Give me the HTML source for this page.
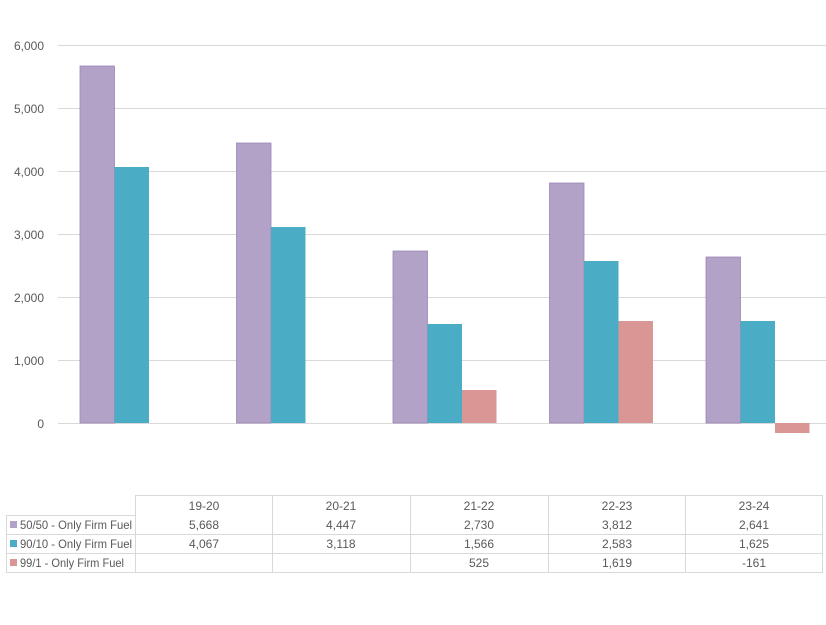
<!DOCTYPE html>
<html><head><style>body{margin:0;background:#fff}svg text{font-family:"Liberation Sans",sans-serif;font-size:12px;fill:#595959}</style></head><body>
<svg width="826" height="620" xmlns="http://www.w3.org/2000/svg">
<g stroke="#d9d9d9" stroke-width="1">
<line x1="58" x2="826" y1="45.5" y2="45.5"/><line x1="58" x2="826" y1="108.5" y2="108.5"/><line x1="58" x2="826" y1="171.5" y2="171.5"/><line x1="58" x2="826" y1="234.5" y2="234.5"/><line x1="58" x2="826" y1="297.5" y2="297.5"/><line x1="58" x2="826" y1="360.5" y2="360.5"/><line x1="58" x2="826" y1="423.5" y2="423.5"/>
</g>
<g text-anchor="end">
<text x="44" y="50">6,000</text><text x="44" y="113">5,000</text><text x="44" y="176">4,000</text><text x="44" y="239">3,000</text><text x="44" y="302">2,000</text><text x="44" y="365">1,000</text><text x="44" y="428">0</text>
</g>
<g stroke-width="0.8">
<rect x="80" y="66" width="34.5" height="357" fill="#b3a2c7" stroke="#9a87b5"/>
<rect x="114.5" y="167" width="34.5" height="256" fill="#4bacc6"/>
<rect x="236.5" y="143" width="34.5" height="280" fill="#b3a2c7" stroke="#9a87b5"/>
<rect x="271" y="227" width="34.5" height="196" fill="#4bacc6"/>
<rect x="393" y="251" width="34.5" height="172" fill="#b3a2c7" stroke="#9a87b5"/>
<rect x="427.5" y="324" width="34.5" height="99" fill="#4bacc6"/>
<rect x="462" y="390" width="34.5" height="33" fill="#d99694"/>
<rect x="549.5" y="183" width="34.5" height="240" fill="#b3a2c7" stroke="#9a87b5"/>
<rect x="584" y="261" width="34.5" height="162" fill="#4bacc6"/>
<rect x="618.5" y="321" width="34.5" height="102" fill="#d99694"/>
<rect x="706" y="257" width="34.5" height="166" fill="#b3a2c7" stroke="#9a87b5"/>
<rect x="740.5" y="321" width="34.5" height="102" fill="#4bacc6"/>
<rect x="775" y="423" width="34.5" height="10" fill="#d99694"/>
</g>
<g stroke="#d9d9d9" fill="none">
<path d="M135.5 495.5H822.5V572.5H6.5V515.5H135.5V495.5"/>
<line x1="6" x2="822" y1="534.5" y2="534.5"/><line x1="6" x2="822" y1="553.5" y2="553.5"/>
<line x1="135.5" x2="135.5" y1="495" y2="572"/><line x1="272.5" x2="272.5" y1="495" y2="572"/><line x1="410.5" x2="410.5" y1="495" y2="572"/><line x1="548.5" x2="548.5" y1="495" y2="572"/><line x1="685.5" x2="685.5" y1="495" y2="572"/>
</g>
<rect x="10" y="521" width="7" height="7" fill="#b3a2c7"/><rect x="10" y="540" width="7" height="7" fill="#4bacc6"/><rect x="10" y="559" width="7" height="7" fill="#d99694"/>
<text x="20" y="529" textLength="112" lengthAdjust="spacingAndGlyphs">50/50 - Only Firm Fuel</text><text x="20" y="548" textLength="112" lengthAdjust="spacingAndGlyphs">90/10 - Only Firm Fuel</text><text x="20" y="567" textLength="104" lengthAdjust="spacingAndGlyphs">99/1 - Only Firm Fuel</text>
<g text-anchor="middle">
<text x="204" y="510">19-20</text><text x="341" y="510">20-21</text><text x="479" y="510">21-22</text><text x="617" y="510">22-23</text><text x="754" y="510">23-24</text>
<text x="204" y="529">5,668</text><text x="341" y="529">4,447</text><text x="479" y="529">2,730</text><text x="617" y="529">3,812</text><text x="754" y="529">2,641</text>
<text x="204" y="548">4,067</text><text x="341" y="548">3,118</text><text x="479" y="548">1,566</text><text x="617" y="548">2,583</text><text x="754" y="548">1,625</text>
<text x="479" y="567">525</text><text x="617" y="567">1,619</text><text x="754" y="567">-161</text>
</g>
</svg>
</body></html>
